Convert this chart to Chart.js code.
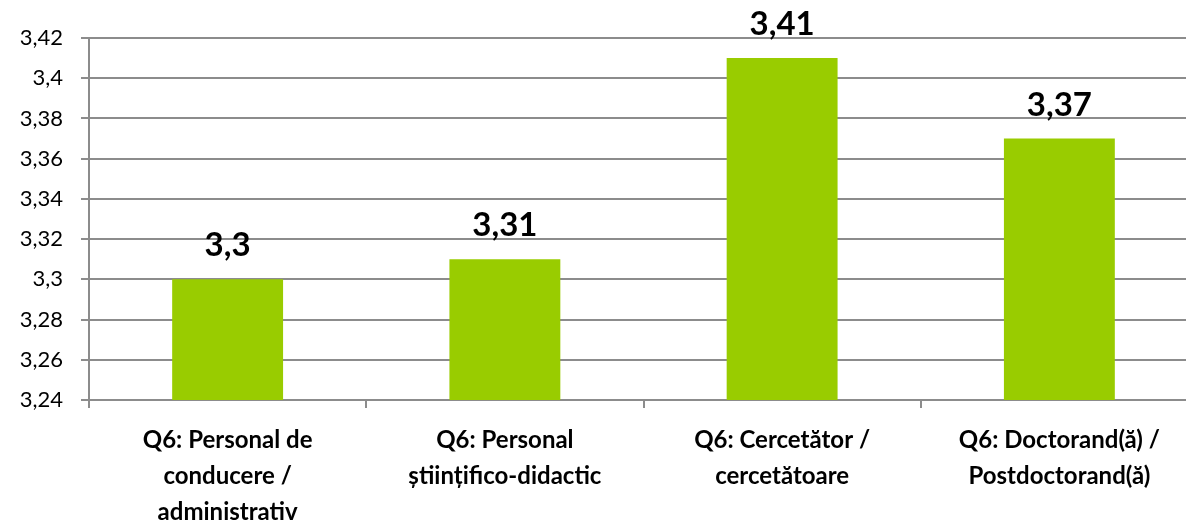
<!DOCTYPE html>
<html>
<head>
  <meta charset="utf-8">
  <title>Q6 scores</title>
  <script src="https://cdn.jsdelivr.net/npm/chart.js"></script>
  <style>
    body {
      margin: 0;
      background: #ffffff;
      overflow: hidden;
    }
    .wrap {
      width: 1198px;
      height: 520px;
    }
  </style>
</head>
<body>
  <div class="wrap"><canvas id="chart"></canvas></div>

  <script>
    const categories = [
      ["Q6: Personal de", "conducere /", "administrativ"],
      ["Q6: Personal", "științifico-didactic"],
      ["Q6: Cercetător /", "cercetătoare"],
      ["Q6: Doctorand(ă) /", "Postdoctorand(ă)"]
    ];
    const scores = [3.30, 3.31, 3.41, 3.37];
    const yMin = 3.24;
    const yMax = 3.42;
    const yStep = 0.02;

    const fmt = v => String(Math.round(v * 100) / 100).replace(".", ",");

    // values drawn above each bar
    const barLabels = {
      id: "barLabels",
      afterDatasetsDraw(chart) {
        const ctx = chart.ctx;
        const meta = chart.getDatasetMeta(0);
        ctx.save();
        ctx.font = "bold 33px Lato";
        ctx.fillStyle = "#000000";
        ctx.textAlign = "center";
        ctx.textBaseline = "alphabetic";
        meta.data.forEach((bar, i) => {
          const p = bar.getProps(["x", "y"], true);
          ctx.fillText(fmt(scores[i]), p.x, p.y - 23);
        });
        ctx.restore();
      }
    };

    new Chart(document.getElementById("chart"), {
      type: "bar",
      data: {
        labels: categories,
        datasets: [{
          data: scores,
          backgroundColor: "#99cc00",
          barPercentage: 0.4,
          categoryPercentage: 1.0
        }]
      },
      options: {
        responsive: true,
        maintainAspectRatio: false,
        animation: false,
        layout: { padding: { top: 38, right: 0, left: 0, bottom: 0 } },
        plugins: {
          legend: { display: false },
          tooltip: { enabled: false }
        },
        scales: {
          x: {
            afterFit(scale) { scale.height = 120; },
            grid: {
              drawOnChartArea: false,
              drawTicks: true,
              tickLength: 8,
              color: "#8c8c8c",
              lineWidth: 2
            },
            border: { color: "#8c8c8c", width: 2 },
            ticks: {
              color: "#000000",
              padding: 15,
              maxRotation: 0,
              font: { family: "Lato", size: 24, weight: "bold", lineHeight: 1.48 }
            }
          },
          y: {
            min: yMin,
            max: yMax,
            afterFit(scale) { scale.width = 89; },
            grid: {
              color: "#8c8c8c",
              lineWidth: 2,
              tickLength: 8
            },
            border: { color: "#8c8c8c", width: 2 },
            ticks: {
              stepSize: yStep,
              color: "#000000",
              padding: 18,
              font: { family: "Lato", size: 22 },
              callback: v => fmt(v)
            }
          }
        }
      },
      plugins: [barLabels]
    });
  </script>
</body>
</html>
